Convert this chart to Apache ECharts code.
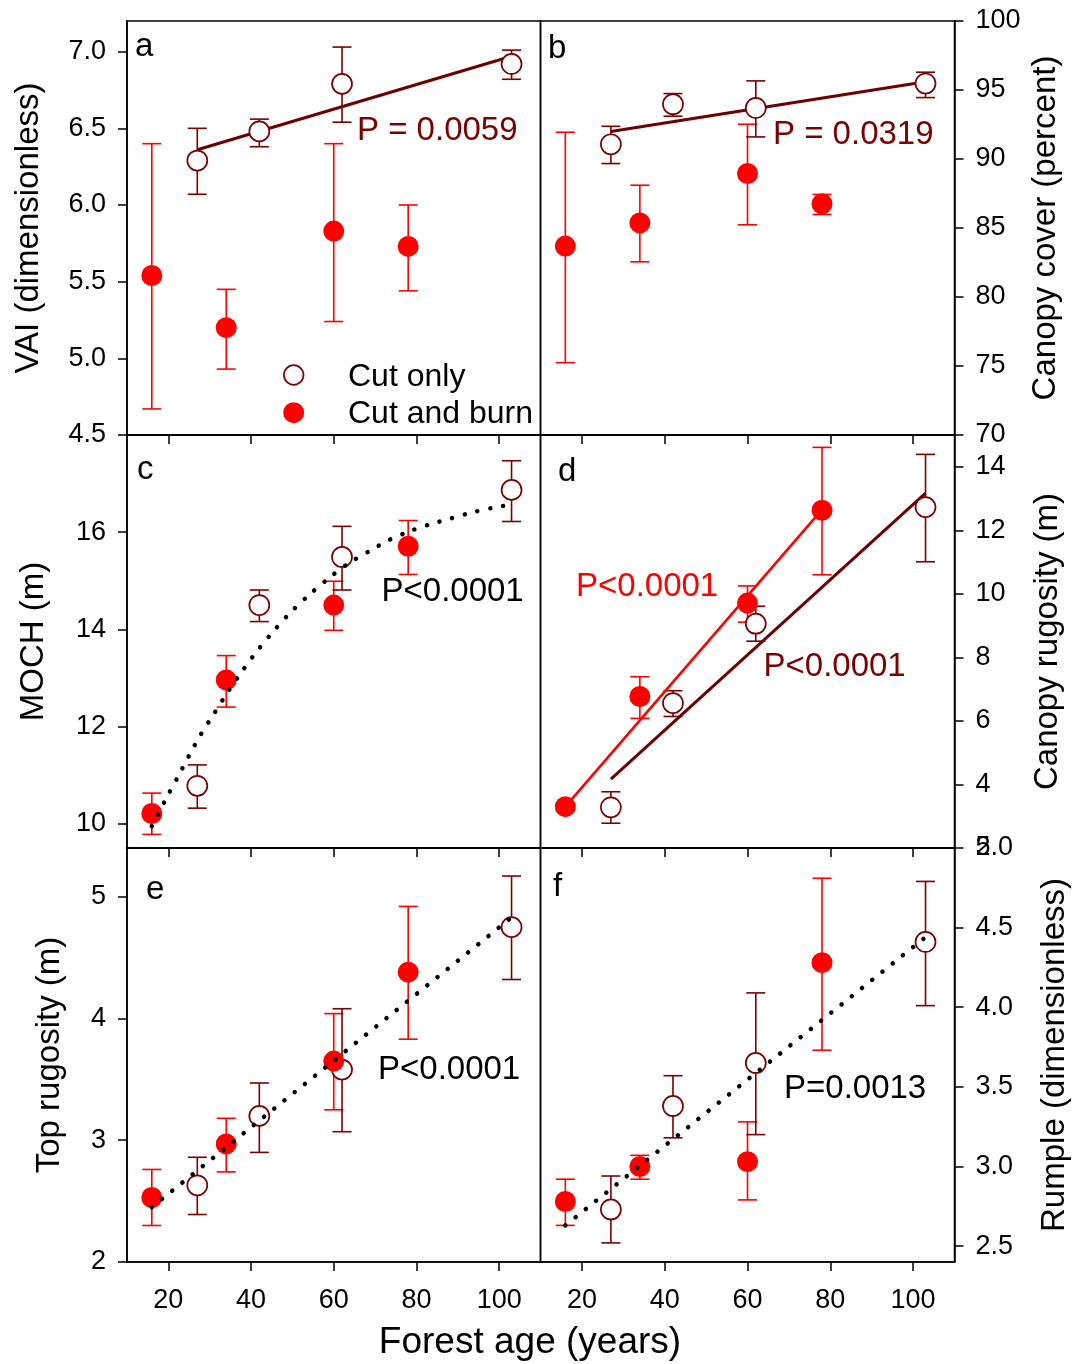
<!DOCTYPE html>
<html><head><meta charset="utf-8">
<script src="https://cdn.jsdelivr.net/npm/echarts@6/dist/echarts.min.js"></script>
<style>html,body{margin:0;padding:0;background:#fff}#c{width:1072px;height:1364px}</style>
</head><body><div id="c"></div>
<script>
// ---------- data ----------
const ageCutOnly = [27, 42, 62, 103];
const ageCutBurn = [16, 34, 60, 78];

// a: VAI
const vaiCutOnly = [6.29, 6.48, 6.79, 6.92];
const vaiCutOnlyLo = [6.07, 6.38, 6.54, 6.82];
const vaiCutOnlyHi = [6.50, 6.56, 7.03, 7.01];
const vaiCutBurn = [5.54, 5.20, 5.83, 5.73];
const vaiCutBurnLo = [4.67, 4.93, 5.24, 5.44];
const vaiCutBurnHi = [6.40, 5.45, 6.40, 6.00];
const vaiFitCutOnly = [[27, 6.36], [103, 6.97]];

// b: canopy cover
const coverCutOnly = [91.07, 93.97, 93.70, 95.47];
const coverCutOnlyLo = [89.67, 93.10, 91.60, 94.45];
const coverCutOnlyHi = [92.37, 94.74, 95.66, 96.29];
const coverCutBurn = [83.69, 85.37, 88.95, 86.75];
const coverCutBurnLo = [75.24, 82.55, 85.23, 85.98];
const coverCutBurnHi = [91.94, 88.10, 92.52, 87.43];
const coverFitCutOnly = [[27, 92.0], [103, 95.6]];

// c: MOCH
const mochCutOnly = [10.78, 14.50, 15.49, 16.87];
const mochCutOnlyLo = [10.32, 14.16, 14.81, 16.22];
const mochCutOnlyHi = [11.21, 14.81, 16.12, 17.47];
const mochCutBurn = [10.21, 12.96, 14.50, 15.71];
const mochCutBurnLo = [9.78, 12.40, 13.98, 15.13];
const mochCutBurnHi = [10.63, 13.46, 14.99, 16.24];
const mochFitAll = [[16, 9.95], [17.3, 10.16], [19.8, 10.57], [22.4, 10.98], [25, 11.40], [27.8, 11.83],
  [30.8, 12.23], [33.9, 12.65], [37.2, 13.06], [40.8, 13.48], [44.7, 13.89], [49.1, 14.31], [53.9, 14.70],
  [58.9, 15.06], [63.6, 15.36], [68.6, 15.61], [73.4, 15.84], [78.4, 16.02], [83.2, 16.16], [88.2, 16.28],
  [93.2, 16.40], [98.4, 16.50], [103, 16.57]];

// d: canopy rugosity
const crCutOnly = [3.28, 6.56, 9.06, 12.73];
const crCutOnlyLo = [2.78, 6.14, 8.51, 11.01];
const crCutOnlyHi = [3.77, 6.95, 9.61, 14.39];
const crCutBurn = [3.30, 6.77, 9.71, 12.63];
const crCutBurnLo = [3.20, 6.08, 9.11, 10.60];
const crCutBurnHi = [3.40, 7.39, 10.25, 14.61];
const crFitCutBurn = [[16, 3.3], [78, 12.65]];
const crFitCutOnly = [[27, 4.17], [103, 13.17]];

// e: top rugosity
const trCutOnly = [2.63, 3.20, 3.58, 4.75];
const trCutOnlyLo = [2.39, 2.90, 3.07, 4.32];
const trCutOnlyHi = [2.86, 3.47, 4.08, 5.17];
const trCutBurn = [2.53, 2.97, 3.65, 4.38];
const trCutBurnLo = [2.30, 2.74, 3.25, 3.83];
const trCutBurnHi = [2.76, 3.18, 4.04, 4.92];
const trFitAll = [[16, 2.45], [103, 4.83]];

// f: rumple
const rumCutOnly = [2.73, 3.38, 3.65, 4.41];
const rumCutOnlyLo = [2.52, 3.18, 3.20, 4.01];
const rumCutOnlyHi = [2.94, 3.57, 4.09, 4.79];
const rumCutBurn = [2.78, 3.00, 3.03, 4.28];
const rumCutBurnLo = [2.63, 2.92, 2.79, 3.73];
const rumCutBurnHi = [2.92, 3.07, 3.28, 4.81];
const rumFitAll = [[16, 2.63], [103, 4.44]];

// tick labels
const xTicks = [20, 40, 60, 80, 100];
const vaiTicks = [4.5, 5, 5.5, 6, 6.5, 7];
const coverTicks = [70, 75, 80, 85, 90, 95, 100];
const mochTicks = [10, 12, 14, 16];
const crTicks = [2, 4, 6, 8, 10, 12, 14];
const trTicks = [2, 3, 4, 5];
const rumTicks = [2.5, 3, 3.5, 4, 4.5, 5];

// ---------- styling ----------
const FF = "'Liberation Sans', Arial, sans-serif";
const DARK = '#7b0000';
const RED = '#ff0000';

const grids = [
  {left: 127, top: 21, width: 413.5, height: 414},
  {left: 540.5, top: 21, width: 414, height: 414},
  {left: 127, top: 435, width: 413.5, height: 413},
  {left: 540.5, top: 435, width: 414, height: 413},
  {left: 127, top: 848, width: 413.5, height: 414},
  {left: 540.5, top: 848, width: 414, height: 414}
].map(g => Object.assign({show: true, borderColor: '#000', borderWidth: 1.5, backgroundColor: 'transparent',
  containLabel: false, outerBoundsMode: 'none'}, g));

function makeX(gi, showLabels) {
  return {
    type: 'value', gridIndex: gi, min: 10, max: 110,
    axisLine: {show: true, onZero: false, lineStyle: {color: '#000', width: 1.5}},
    axisTick: {show: true, inside: false, length: 9, customValues: xTicks, lineStyle: {color: '#000', width: 1.5}},
    axisLabel: {show: showLabels, customValues: xTicks, fontSize: 27, color: '#000', fontFamily: FF, margin: 25},
    splitLine: {show: false}
  };
}
function makeY(gi, pos, min, max, ticks, dec, name, gap) {
  return {
    type: 'value', gridIndex: gi, position: pos, min: min, max: max,
    name: name, nameLocation: 'middle', nameGap: gap, nameMoveOverlap: false,
    nameTextStyle: {fontSize: 33, color: '#000', fontFamily: FF},
    axisLine: {show: true, onZero: false, lineStyle: {color: '#000', width: 1.5}},
    axisTick: {show: true, inside: false, length: 9, customValues: ticks, lineStyle: {color: '#000', width: 1.5}},
    axisLabel: {show: true, customValues: ticks, fontSize: 27, color: '#000', fontFamily: FF, margin: 21,
      formatter: v => Number(v).toFixed(dec), showMinLabel: true, showMaxLabel: true, hideOverlap: false},
    splitLine: {show: false}
  };
}

const xAxes = [makeX(0, false), makeX(1, false), makeX(2, false), makeX(3, false), makeX(4, true), makeX(5, true)];
const yAxes = [
  makeY(0, 'left', 4.5, 7.2, vaiTicks, 1, 'VAI (dimensionless)', 82),
  makeY(1, 'right', 70, 100, coverTicks, 0, 'Canopy cover (percent)', 75),
  makeY(2, 'left', 9.5, 18, mochTicks, 0, 'MOCH (m)', 77),
  makeY(3, 'right', 2, 15, crTicks, 0, 'Canopy rugosity (m)', 77),
  makeY(4, 'left', 2, 5.4, trTicks, 0, 'Top rugosity (m)', 61),
  makeY(5, 'right', 2.4, 5.0, rumTicks, 1, 'Rumple (dimensionless)', 84)
];

function zipErr(ages, lo, hi) { return ages.map((a, i) => [a, lo[i], hi[i]]); }
function zipPts(ages, vals) { return ages.map((a, i) => [a, vals[i]]); }

function errSeries(gi, data, color) {
  return {
    type: 'custom', xAxisIndex: gi, yAxisIndex: gi, z: 2, silent: true, clip: false,
    data: data,
    renderItem: function (params, api) {
      const x = api.value(0), lo = api.value(1), hi = api.value(2);
      const p1 = api.coord([x, lo]), p2 = api.coord([x, hi]);
      const st = {stroke: color, lineWidth: 1.6, fill: null};
      const w = 9.5;
      return {type: 'group', children: [
        {type: 'line', shape: {x1: p1[0], y1: p1[1], x2: p2[0], y2: p2[1]}, style: st},
        {type: 'line', shape: {x1: p1[0] - w, y1: p1[1], x2: p1[0] + w, y2: p1[1]}, style: st},
        {type: 'line', shape: {x1: p2[0] - w, y1: p2[1], x2: p2[0] + w, y2: p2[1]}, style: st}
      ]};
    }
  };
}
function openSeries(gi, data) {
  return {type: 'scatter', name: 'Cut only', xAxisIndex: gi, yAxisIndex: gi, z: 4, data: data,
    symbol: 'circle', symbolSize: 20, itemStyle: {color: '#fff', borderColor: DARK, borderWidth: 1.7, opacity: 1}};
}
function filledSeries(gi, data) {
  return {type: 'scatter', name: 'Cut and burn', xAxisIndex: gi, yAxisIndex: gi, z: 5, data: data,
    symbol: 'circle', symbolSize: 21, itemStyle: {color: RED, borderWidth: 0, opacity: 1}};
}
function solidLine(gi, data, color, w) {
  return {type: 'line', xAxisIndex: gi, yAxisIndex: gi, z: 3, data: data, showSymbol: false, silent: true,
    lineStyle: {color: color, width: w}};
}
function dottedLine(gi, data, smooth) {
  return {type: 'line', xAxisIndex: gi, yAxisIndex: gi, z: 6, data: data, showSymbol: false, silent: true,
    smooth: smooth ? 0.3 : false,
    lineStyle: {color: '#000', width: 4.5, type: [0.1, 13], cap: 'round'}};
}

const series = [
  // a
  errSeries(0, zipErr(ageCutBurn, vaiCutBurnLo, vaiCutBurnHi), RED),
  errSeries(0, zipErr(ageCutOnly, vaiCutOnlyLo, vaiCutOnlyHi), DARK),
  solidLine(0, vaiFitCutOnly, '#6e0000', 3),
  openSeries(0, zipPts(ageCutOnly, vaiCutOnly)),
  filledSeries(0, zipPts(ageCutBurn, vaiCutBurn)),
  // b
  errSeries(1, zipErr(ageCutBurn, coverCutBurnLo, coverCutBurnHi), RED),
  errSeries(1, zipErr(ageCutOnly, coverCutOnlyLo, coverCutOnlyHi), DARK),
  solidLine(1, coverFitCutOnly, '#6e0000', 3),
  openSeries(1, zipPts(ageCutOnly, coverCutOnly)),
  filledSeries(1, zipPts(ageCutBurn, coverCutBurn)),
  // c
  errSeries(2, zipErr(ageCutBurn, mochCutBurnLo, mochCutBurnHi), RED),
  errSeries(2, zipErr(ageCutOnly, mochCutOnlyLo, mochCutOnlyHi), DARK),
  openSeries(2, zipPts(ageCutOnly, mochCutOnly)),
  filledSeries(2, zipPts(ageCutBurn, mochCutBurn)),
  dottedLine(2, mochFitAll, true),
  // d
  errSeries(3, zipErr(ageCutBurn, crCutBurnLo, crCutBurnHi), RED),
  errSeries(3, zipErr(ageCutOnly, crCutOnlyLo, crCutOnlyHi), DARK),
  solidLine(3, crFitCutBurn, RED, 2.6),
  solidLine(3, crFitCutOnly, '#6e0000', 3),
  openSeries(3, zipPts(ageCutOnly, crCutOnly)),
  filledSeries(3, zipPts(ageCutBurn, crCutBurn)),
  // e
  errSeries(4, zipErr(ageCutBurn, trCutBurnLo, trCutBurnHi), RED),
  errSeries(4, zipErr(ageCutOnly, trCutOnlyLo, trCutOnlyHi), DARK),
  openSeries(4, zipPts(ageCutOnly, trCutOnly)),
  filledSeries(4, zipPts(ageCutBurn, trCutBurn)),
  dottedLine(4, trFitAll, false),
  // f
  errSeries(5, zipErr(ageCutBurn, rumCutBurnLo, rumCutBurnHi), RED),
  errSeries(5, zipErr(ageCutOnly, rumCutOnlyLo, rumCutOnlyHi), DARK),
  openSeries(5, zipPts(ageCutOnly, rumCutOnly)),
  filledSeries(5, zipPts(ageCutBurn, rumCutBurn)),
  dottedLine(5, rumFitAll, false)
];

function txt(x, y, s, size, color, align) {
  return {type: 'text', x: x, y: y, z: 100, silent: true,
    style: {text: s, fontSize: size, fontFamily: FF, fill: color, align: align || 'left', verticalAlign: 'middle'}};
}

const graphic = [
  // panel letters
  txt(135, 47, 'a', 33, '#000'),
  txt(548, 49, 'b', 33, '#000'),
  txt(137, 470, 'c', 33, '#000'),
  txt(558, 472, 'd', 33, '#000'),
  txt(146, 890, 'e', 33, '#000'),
  txt(553, 887, 'f', 33, '#000'),
  // P values
  txt(357, 131, 'P = 0.0059', 33, DARK),
  txt(773, 135, 'P = 0.0319', 33, DARK),
  txt(381.5, 592, 'P<0.0001', 33, '#000'),
  txt(576, 587, 'P<0.0001', 33, RED),
  txt(763.5, 667, 'P<0.0001', 33, DARK),
  txt(378, 1070, 'P<0.0001', 33, '#000'),
  txt(784, 1088.5, 'P=0.0013', 33, '#000'),
  // legend
  {type: 'circle', shape: {cx: 293.7, cy: 375, r: 9.8}, z: 100, silent: true,
    style: {fill: '#fff', stroke: DARK, lineWidth: 1.7}},
  {type: 'circle', shape: {cx: 293.7, cy: 412.7, r: 10.5}, z: 100, silent: true, style: {fill: RED}},
  txt(348, 377.5, 'Cut only', 32, '#000'),
  txt(348, 414.5, 'Cut and burn', 32, '#000'),
  // x axis title
  txt(530, 1342.5, 'Forest age (years)', 37, '#000', 'center')
];

const chart = echarts.init(document.getElementById('c'), null, {renderer: 'canvas'});
chart.setOption({
  animation: false,
  backgroundColor: '#fff',
  textStyle: {fontFamily: FF},
  grid: grids,
  xAxis: xAxes,
  yAxis: yAxes,
  series: series,
  graphic: graphic
});
</script>
</body></html>
